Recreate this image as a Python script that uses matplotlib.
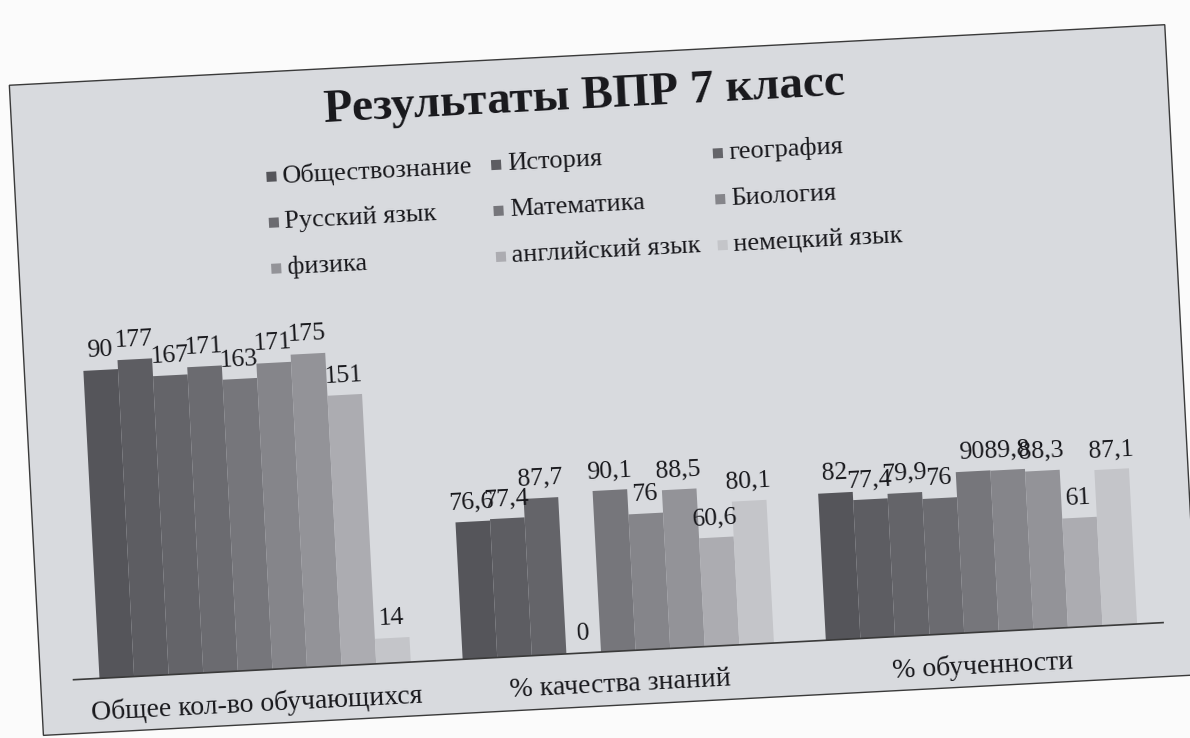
import numpy as np
import matplotlib
matplotlib.use("Agg")
import matplotlib.pyplot as plt
from matplotlib.patches import Rectangle
from matplotlib.transforms import Affine2D, ScaledTranslation, blended_transform_factory

plt.rcParams['font.family'] = ['Liberation Serif', 'DejaVu Serif']

# ---------------- data ----------------
title = 'Результаты ВПР 7 класс'
categories = ['Общее кол-во обучающихся', '% качества знаний', '% обученности']
subjects = ['Обществознание', 'История', 'география',
            'Русский язык', 'Математика', 'Биология',
            'физика', 'английский язык', 'немецкий язык']

obshchestvoznanie = [172, 76.6, 82]
istoriya = [177, 77.4, 77.4]
geografiya = [167, 87.7, 79.9]
russkiy = [171, 0, 76]
matematika = [163, 90.1, 90]
biologiya = [171, 76, 89.8]
fizika = [175, 88.5, 88.3]
angliyskiy = [151, 60.6, 61]
nemetskiy = [14, 80.1, 87.1]
series = [obshchestvoznanie, istoriya, geografiya, russkiy, matematika,
          biologiya, fizika, angliyskiy, nemetskiy]
# label printed on the chart differs from bar height for this one bar
label_overrides = {(0, 0): '90'}

colors = ['#55555a', '#5d5d62', '#646469', '#6b6b70', '#76767b',
          '#85858a', '#939398', '#acacb1', '#c4c5c9']

# ---------------- layout ----------------
W, H = 1190, 738
ANGLE = 3.0
fig = plt.figure(figsize=(W / 100, H / 100), dpi=100)
fig.patch.set_facecolor('#fbfbfb')

bg = fig.add_axes([0, 0, 1, 1], zorder=0)
bg.set_xlim(0, W)
bg.set_ylim(H, 0)
bg.axis('off')

# chart frame
bg.add_patch(Rectangle((25, 55), 1157, 651, facecolor='#d8dade',
                       edgecolor='#3a3a3a', linewidth=1.0))

bg.text(599, 97, title, ha='center', va='center', fontsize=34,
        fontweight='bold', color='#18181c')

col_x = [277, 502, 724]
row_y = [160, 206, 252]
for i, name in enumerate(subjects):
    cx = col_x[i % 3]
    cy = row_y[i // 3]
    bg.add_patch(Rectangle((cx, cy - 5), 10, 10, facecolor=colors[i],
                           edgecolor='none'))
    bg.text(cx + 16, cy, name, ha='left', va='center', fontsize=19,
            color='#18181c')

plot_left, plot_right, plot_top, plot_bottom = 58, 1149, 294, 652
ax = fig.add_axes([plot_left / W, (H - plot_bottom) / H,
                   (plot_right - plot_left) / W, (plot_bottom - plot_top) / H],
                  zorder=1)
ax.patch.set_alpha(0)
ax.axis('off')
ax.set_xlim(-0.5, len(categories) - 0.5)
ax.set_ylim(0, 200)

n = len(series)
bw = 1 / (n + 1.5)
xs = np.arange(len(categories))
lab_off = ScaledTranslation(0, 6 / 72, fig.dpi_scale_trans)


def fmt(v):
    if float(v).is_integer():
        return str(int(v))
    return f'{v:.1f}'.replace('.', ',')


for i, vals in enumerate(series):
    xpos = xs + (i - (n - 1) / 2) * bw
    ax.bar(xpos, vals, width=bw, color=colors[i], linewidth=0)
    for j, v in enumerate(vals):
        txt = label_overrides.get((i, j), fmt(v))
        ax.text(xpos[j], v, txt, ha='center', va='bottom', fontsize=18.5,
                color='#18181c', transform=ax.transData + lab_off)

ax.axhline(0, color='#3a3a3a', linewidth=1.2)

cat_tr = blended_transform_factory(ax.transData, ax.transAxes)
for j, c in enumerate(categories):
    ax.text(xs[j], -0.095, c, ha='center', va='center', fontsize=20,
            color='#18181c', transform=cat_tr)

# ---------------- slight tilt of the scanned page ----------------
rot = Affine2D().rotate_deg_around(W / 2, H / 2, ANGLE)
for a in list(ax.patches) + list(bg.patches):
    a.set_transform(a.get_data_transform() + rot)
    a.set_clip_on(False)
for t in list(ax.texts) + list(bg.texts):
    t.set_transform(t.get_transform() + rot)
    t.set_rotation(ANGLE)
    t.set_rotation_mode('anchor')
    t.set_clip_on(False)
for ln in list(ax.lines) + list(bg.lines):
    ln.set_transform(ln.get_transform() + rot)
    ln.set_clip_on(False)

fig.savefig('out.png', dpi=100)
